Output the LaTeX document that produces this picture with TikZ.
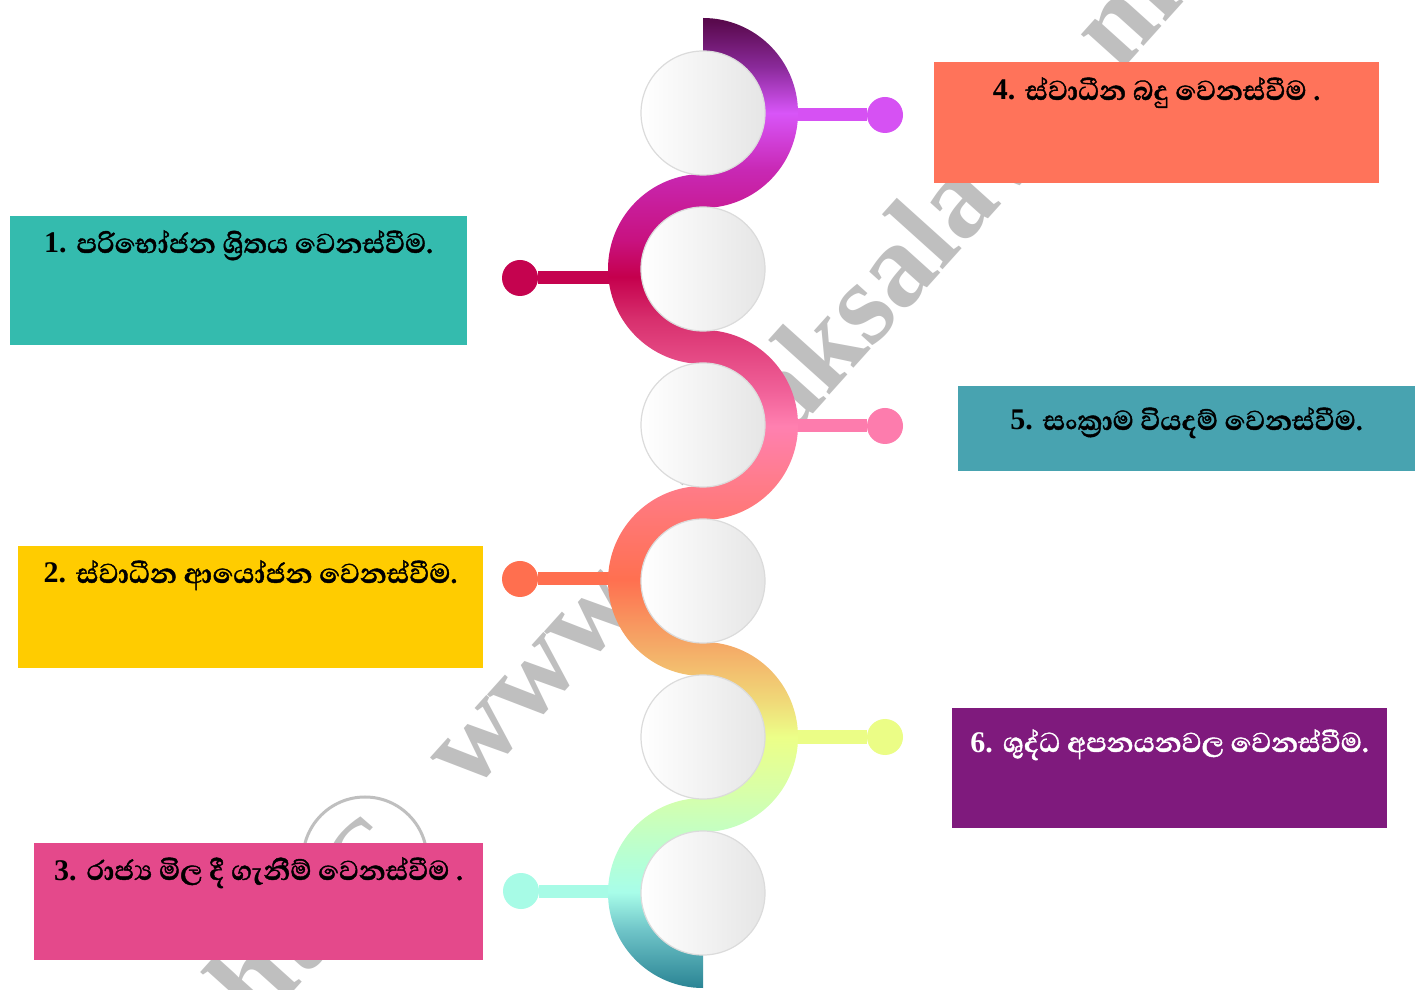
\documentclass[tikz,border=0pt]{standalone}
\usepackage{fontspec}
\setmainfont{Liberation Serif}
\newfontfamily\sinhalafont[Script=Sinhala, BoldFeatures={FakeBold=1.2}]{Abhaya Libre}
\definecolor{boxA}{HTML}{34BBAE}
\definecolor{boxB}{HTML}{FFCC00}
\definecolor{boxC}{HTML}{E4498B}
\definecolor{boxD}{HTML}{FF735A}
\definecolor{boxE}{HTML}{48A3B0}
\definecolor{boxF}{HTML}{7F1A7D}
\definecolor{wmark}{HTML}{BFBFBF}
\definecolor{conA}{HTML}{D651F3}
\definecolor{conB}{HTML}{C5034F}
\definecolor{conC}{HTML}{FD7CAD}
\definecolor{conD}{HTML}{FF6F4F}
\definecolor{conE}{HTML}{EBFD86}
\definecolor{conF}{HTML}{A7FBE6}
\definecolor{s00}{HTML}{4A0040}
\definecolor{s01}{HTML}{5A0A4E}
\definecolor{s02}{HTML}{8A2A9A}
\definecolor{s03}{HTML}{D855F8}
\definecolor{s04}{HTML}{C828B4}
\definecolor{s05}{HTML}{C81280}
\definecolor{s06}{HTML}{C5004D}
\definecolor{s07}{HTML}{D8306E}
\definecolor{s08}{HTML}{F06098}
\definecolor{s09}{HTML}{FF80B0}
\definecolor{s10}{HTML}{FF7C8C}
\definecolor{s11}{HTML}{FF7050}
\definecolor{s12}{HTML}{F5A565}
\definecolor{s13}{HTML}{F0D878}
\definecolor{s14}{HTML}{ECFF88}
\definecolor{s15}{HTML}{D8FFA8}
\definecolor{s16}{HTML}{B5FFD5}
\definecolor{s17}{HTML}{A8FDE9}
\definecolor{s18}{HTML}{6FC4C8}
\definecolor{s19}{HTML}{2A8494}
\pgfdeclareverticalshading{bandshade}{100bp}{%
color(0bp)=(s19); color(25bp)=(s19); color(25.6bp)=(s19); color(28.5bp)=(s18);
color(30.4bp)=(s17); color(32bp)=(s16); color(35.5bp)=(s15); color(38.15bp)=(s14);
color(40bp)=(s13); color(43bp)=(s12); color(46bp)=(s11); color(51bp)=(s10);
color(53.7bp)=(s09); color(55.5bp)=(s08); color(59bp)=(s07); color(61.15bp)=(s06);
color(63bp)=(s05); color(66.5bp)=(s04); color(69.35bp)=(s03); color(71.65bp)=(s02);
color(73.9bp)=(s01); color(75bp)=(s00); color(100bp)=(s00)}
\newcommand\sinhtext[1]{{\sinhalafont\bfseries\fontsize{35bp}{40bp}\selectfont #1}}
\tikzset{
  boxnode/.style={rectangle, inner sep=0pt, outer sep=0pt, anchor=south west},
  lbl/.style={anchor=base, inner sep=0pt, font=\fontsize{30bp}{36bp}\selectfont\bfseries},
  dotnode/.style={circle, inner sep=0pt, minimum size=36bp},
  conn/.style={line width=13bp},
  wc/.style={circle, inner sep=0pt, minimum size=124bp, left color=white, right color=black!10, draw=black!14, line width=1.2bp},
  wmtext/.style={text=wmark, inner sep=0pt, rotate=48, font=\fontsize{118bp}{130bp}\selectfont\bfseries}
}
\begin{document}
\begin{tikzpicture}[x=1bp,y=1bp]
\useasboundingbox (0,0) rectangle (1415,989);
\fill[white] (0,0) rectangle (1415,989);
% watermark
\begin{scope}
\clip (0,0) rectangle (1415,989);
\node[wmtext, anchor=base west] (wm1) at (470,194) {www.e-thaksalawa.moe.gov.lk};
\node[wmtext, anchor=base east] (wm0) at (330,38) {Copyright};
\node[circle, draw=wmark, line width=3bp, minimum size=124bp, inner sep=0pt] (wmc) at (365,130) {};
\node[text=wmark, inner sep=0pt, rotate=48, font=\fontsize{105bp}{110bp}\selectfont\bfseries] (wmC) at (wmc.center) {C};
\end{scope}
% boxes
\node[boxnode, fill=boxA, minimum width=457bp, minimum height=129bp] (b1) at (10,644) {};
\node[boxnode, fill=boxB, minimum width=465bp, minimum height=122bp] (b2) at (18,321) {};
\node[boxnode, fill=boxC, minimum width=449bp, minimum height=117bp] (b3) at (34,29) {};
\node[boxnode, fill=boxD, minimum width=445bp, minimum height=121bp] (b4) at (934,806) {};
\node[boxnode, fill=boxE, minimum width=457bp, minimum height=85bp] (b5) at (958,518) {};
\node[boxnode, fill=boxF, minimum width=435bp, minimum height=120bp] (b6) at (952,161) {};
% connectors and dots
\node[dotnode, fill=conA] (d1) at (885,874) {};
\node[dotnode, fill=conB] (d2) at (520,711) {};
\node[dotnode, fill=conC] (d3) at (885,563) {};
\node[dotnode, fill=conD] (d4) at (520,410) {};
\node[dotnode, fill=conE] (d5) at (885,252) {};
\node[dotnode, fill=conF] (d6) at (521,98) {};
\coordinate (j1) at (790,874);
\coordinate (j2) at (616,711);
\coordinate (j3) at (790,563);
\coordinate (j4) at (616,410);
\coordinate (j5) at (790,252);
\coordinate (j6) at (616,98);
\draw[conn, conA] (j1) -- (d1);
\draw[conn, conB] (j2) -- (d2);
\draw[conn, conC] (j3) -- (d3);
\draw[conn, conD] (j4) -- (d4);
\draw[conn, conE] (j5) -- (d5);
\draw[conn, conF] (j6) -- (d6);
% serpentine band
\begin{scope}
\clip
 (703,971) arc[start angle=90,end angle=-90,radius=95] -- (703,815) arc[start angle=-90,end angle=90,radius=61] -- cycle
 (703,815) arc[start angle=90,end angle=270,radius=95] -- (703,659) arc[start angle=270,end angle=90,radius=61] -- cycle
 (703,659) arc[start angle=90,end angle=-90,radius=95] -- (703,503) arc[start angle=-90,end angle=90,radius=61] -- cycle
 (703,503) arc[start angle=90,end angle=270,radius=95] -- (703,347) arc[start angle=270,end angle=90,radius=61] -- cycle
 (703,347) arc[start angle=90,end angle=-90,radius=95] -- (703,191) arc[start angle=-90,end angle=90,radius=61] -- cycle
 (703,191) arc[start angle=90,end angle=270,radius=95] -- (703,35) arc[start angle=270,end angle=90,radius=61] -- cycle;
\shade[shading=bandshade] (600,-11) rectangle (810,989);
\end{scope}
% white circles
\node[wc] (w1) at (703,876) {};
\node[wc] (w2) at (703,720) {};
\node[wc] (w3) at (703,564) {};
\node[wc] (w4) at (703,408) {};
\node[wc] (w5) at (703,252) {};
\node[wc] (w6) at (703,96) {};
% texts
\node[lbl] (t1) at (238.5,736) {1. \sinhtext{පරිභෝජන ශ්^^^^200dරිතය වෙනස්වීම.}};
\node[lbl] (t2) at (250.5,406) {2. \sinhtext{ස්වාධීන ආයෝජන වෙනස්වීම.}};
\node[lbl] (t3) at (258.5,109) {3. \sinhtext{රාජ්^^^^200dය මිල දී ගැනීම් වෙනස්වීම .}};
\node[lbl] (t4) at (1156.5,889) {4. \sinhtext{ස්වාධීන බදු වෙනස්වීම .}};
\node[lbl] (t5) at (1186.5,559) {5. \sinhtext{සංක්^^^^200dරාම වියදම් වෙනස්වීම.}};
\node[lbl, text=white] (t6) at (1169.5,237) {6. \sinhtext{ශුද්ධ අපනයනවල වෙනස්වීම.}};
\end{tikzpicture}
\end{document}
